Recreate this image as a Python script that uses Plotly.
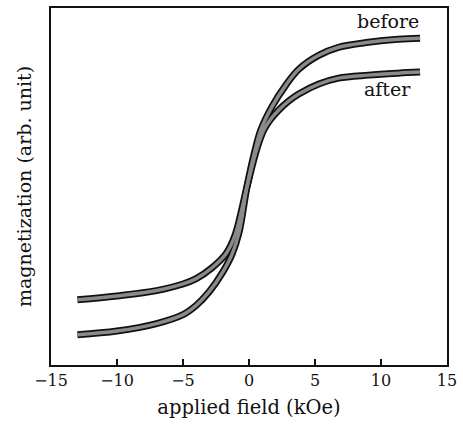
import plotly.graph_objects as go

# applied field (kOe) and magnetization (arb. unit)
before_field = [-13.0, -10.0, -7.0, -5.0, -4.0, -3.0, -2.0, -1.28, -0.75, -0.15,
                0.45, 0.90, 1.73, 2.79, 3.77, 5.28, 6.78, 9.04, 11.3, 12.96]
before_mag = [-0.830, -0.810, -0.768, -0.718, -0.666, -0.588, -0.481, -0.379, -0.256, 0.0,
              0.201, 0.318, 0.446, 0.568, 0.657, 0.735, 0.780, 0.808, 0.825, 0.830]

after_field = [-13.0, -10.0, -7.0, -5.0, -4.0, -2.8, -1.73, -1.06, -0.15,
               0.6, 1.13, 1.66, 2.26, 3.01, 3.77, 5.28, 6.78, 9.04, 11.3, 12.96]
after_mag = [-0.635, -0.613, -0.583, -0.546, -0.516, -0.455, -0.375, -0.273, 0.0,
             0.212, 0.318, 0.379, 0.429, 0.479, 0.518, 0.574, 0.607, 0.624, 0.635, 0.641]

x_ticks = [-15, -10, -5, 0, 5, 10, 15]
x_tick_text = ["\u221215", "\u221210", "\u22125", "0", "5", "10", "15"]

SERIF = "DejaVu Serif, Liberation Serif, serif"

fig = go.Figure()
for xs, ys in [(after_field, after_mag), (before_field, before_mag)]:
    fig.add_trace(go.Scatter(x=xs, y=ys, mode="lines",
                             line=dict(color="#111111", width=7, shape="spline", smoothing=1.0),
                             hoverinfo="skip", showlegend=False))
for xs, ys in [(after_field, after_mag), (before_field, before_mag)]:
    fig.add_trace(go.Scatter(x=xs, y=ys, mode="lines",
                             line=dict(color="#8a8a8a", width=3.5, shape="spline", smoothing=1.0),
                             hoverinfo="skip", showlegend=False))

fig.add_annotation(x=13, y=0.93, text="before", showarrow=False, xanchor="right",
                   yanchor="middle", font=dict(family=SERIF, size=19, color="#111"))
fig.add_annotation(x=12.4, y=0.545, text="after", showarrow=False, xanchor="right",
                   yanchor="middle", font=dict(family=SERIF, size=19, color="#111"))

fig.update_layout(
    width=463, height=424,
    margin=dict(l=51, r=14, t=6, b=59),
    paper_bgcolor="white", plot_bgcolor="white",
    font=dict(family=SERIF, size=16, color="#111"),
    xaxis=dict(range=[-15, 15], tickvals=x_ticks, ticktext=x_tick_text,
               ticks="inside", ticklen=6, tickwidth=2, tickcolor="#111",
               showline=True, linecolor="#111", linewidth=2, mirror=True,
               showgrid=False, zeroline=False,
               tickfont=dict(family=SERIF, size=16),
               title=dict(text="applied field (kOe)", font=dict(family=SERIF, size=19.5), standoff=11)),
    yaxis=dict(range=[-1, 1], showticklabels=False, ticks="",
               showline=True, linecolor="#111", linewidth=2, mirror=True,
               showgrid=False, zeroline=False,
               title=dict(text="magnetization (arb. unit)", font=dict(family=SERIF, size=19), standoff=12)),
)

fig.write_html("out.html")
